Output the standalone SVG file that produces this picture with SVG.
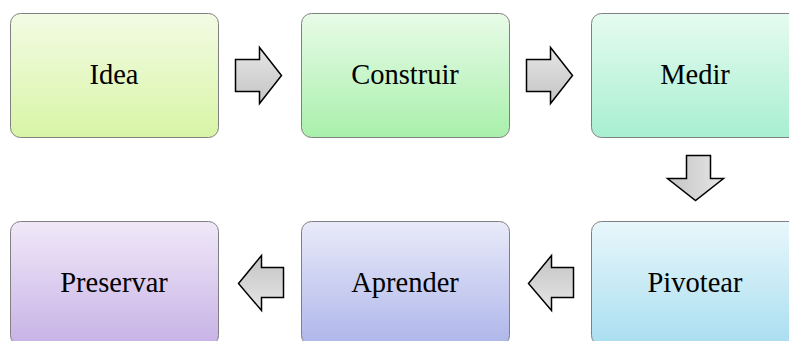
<svg xmlns="http://www.w3.org/2000/svg" width="789" height="341" viewBox="0 0 789 341">
  <defs>
    <linearGradient id="gIdea" x1="0" y1="0" x2="0" y2="1"><stop offset="0" stop-color="#f3fbe4"/><stop offset="1" stop-color="#d8f5a6"/></linearGradient>
    <linearGradient id="gConstruir" x1="0" y1="0" x2="0" y2="1"><stop offset="0" stop-color="#e8fbe8"/><stop offset="1" stop-color="#a9f0ab"/></linearGradient>
    <linearGradient id="gMedir" x1="0" y1="0" x2="0" y2="1"><stop offset="0" stop-color="#e6fbf1"/><stop offset="1" stop-color="#a8efd0"/></linearGradient>
    <linearGradient id="gPivotear" x1="0" y1="0" x2="0" y2="1"><stop offset="0" stop-color="#e8f7fb"/><stop offset="1" stop-color="#a9def0"/></linearGradient>
    <linearGradient id="gAprender" x1="0" y1="0" x2="0" y2="1"><stop offset="0" stop-color="#e9eaf9"/><stop offset="1" stop-color="#aeb6ea"/></linearGradient>
    <linearGradient id="gPreservar" x1="0" y1="0" x2="0" y2="1"><stop offset="0" stop-color="#f0e8f8"/><stop offset="1" stop-color="#c7b2e6"/></linearGradient>
    <linearGradient id="gArrowR" x1="0" y1="0" x2="0" y2="1"><stop offset="0" stop-color="#e6e6e6"/><stop offset="1" stop-color="#c4c4c4"/></linearGradient>
    <linearGradient id="gArrowD" x1="1" y1="0" x2="0" y2="0"><stop offset="0" stop-color="#e6e6e6"/><stop offset="1" stop-color="#c4c4c4"/></linearGradient>
    <linearGradient id="gArrowL" x1="0" y1="1" x2="0" y2="0"><stop offset="0" stop-color="#e6e6e6"/><stop offset="1" stop-color="#c4c4c4"/></linearGradient>
  </defs>
  <style>
    .box { stroke: #808080; stroke-width: 1; }
    .label { font-family: "Liberation Serif", "Times New Roman", serif; font-size: 28.5px; fill: #000; text-anchor: middle; }
    .arrow { stroke: #000; stroke-width: 1.5; stroke-linejoin: miter; }
  </style>

  <g id="idea">
    <rect class="box" x="10.5" y="13.5" width="208" height="124" rx="10" fill="url(#gIdea)"/>
    <text class="label" x="114" y="84">Idea</text>
  </g>
  <g id="construir">
    <rect class="box" x="301.5" y="13.5" width="208" height="124" rx="10" fill="url(#gConstruir)"/>
    <text class="label" x="405" y="84">Construir</text>
  </g>
  <g id="medir">
    <rect class="box" x="591.5" y="13.5" width="208" height="124" rx="10" fill="url(#gMedir)"/>
    <text class="label" x="695" y="84">Medir</text>
  </g>
  <g id="pivotear">
    <rect class="box" x="591.5" y="221.5" width="208" height="124" rx="10" fill="url(#gPivotear)"/>
    <text class="label" x="695" y="292">Pivotear</text>
  </g>
  <g id="aprender">
    <rect class="box" x="301.5" y="221.5" width="208" height="124" rx="10" fill="url(#gAprender)"/>
    <text class="label" x="405" y="292">Aprender</text>
  </g>
  <g id="preservar">
    <rect class="box" x="10.5" y="221.5" width="208" height="124" rx="10" fill="url(#gPreservar)"/>
    <text class="label" x="114" y="292">Preservar</text>
  </g>

  <g id="connectors">
    <path class="arrow" fill="url(#gArrowR)" d="M235.5 59.5 H259.5 V47.5 L281.5 75.5 L259.5 103.5 V91.5 H235.5 Z"/>
    <path class="arrow" fill="url(#gArrowR)" d="M526.5 59.5 H550.5 V47.5 L572.5 75.5 L550.5 103.5 V91.5 H526.5 Z"/>
    <path class="arrow" fill="url(#gArrowD)" d="M686.5 155.5 H710.5 V178.5 H723.5 L695.5 200.5 L667.5 178.5 H686.5 Z"/>
    <path class="arrow" fill="url(#gArrowL)" d="M573.5 267.5 V297.5 H551.5 V310.5 L528.5 283.5 L551.5 255.5 V267.5 Z"/>
    <path class="arrow" fill="url(#gArrowL)" d="M283.5 267.5 V297.5 H261.5 V310.5 L238.5 283.5 L261.5 255.5 V267.5 Z"/>
  </g>
</svg>
